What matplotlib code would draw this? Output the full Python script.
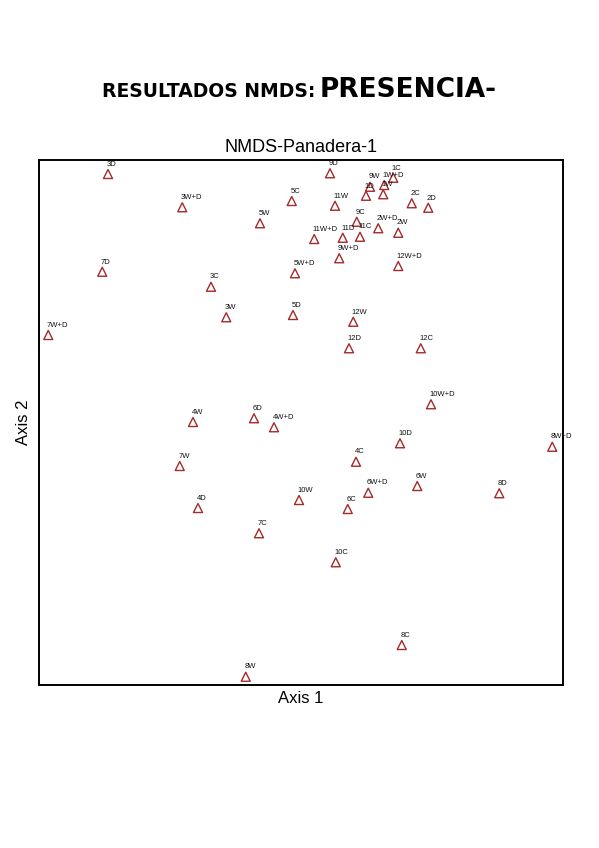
import matplotlib
matplotlib.use('Agg')
import matplotlib.pyplot as plt

# NMDS scores (axis units arbitrary)
labels = ['3D', '3W+D', '5C', '5W', '7D', '3C', '5W+D', '3W', '5D', '7W+D',
          '4W', '6D', '4W+D', '7W', '4D', '7C',
          '10W+D', '10D', '8W+D', '4C', '6W+D', '6W', '8D', '10W', '6C', '10C',
          '8C', '8W',
          '12W', '12D', '12C', '12W+D', '9W+D',
          '9D', '11W', '2C', '2D', '9C', '2W+D', '2W', '11W+D', '11D', '11C',
          '1D', '1W', '1C', '1W+D', '9W']
axis1 = [-0.768, -0.471, -0.033, -0.160, -0.791, -0.356, -0.020, -0.295, -0.028, -1.007,
         -0.428, -0.184, -0.104, -0.481, -0.408, -0.164,
         0.524, 0.400, 1.009, 0.224, 0.273, 0.469, 0.797, -0.004, 0.191, 0.143,
         0.407, -0.217,
         0.213, 0.196, 0.483, 0.393, 0.157,
         0.120, 0.140, 0.447, 0.513, 0.227, 0.313, 0.393, 0.057, 0.171, 0.240,
         0.264, 0.333, 0.373, 0.337, 0.280]
axis2 = [0.984, 0.851, 0.876, 0.787, 0.593, 0.533, 0.587, 0.411, 0.420, 0.340,
         -0.008, 0.007, -0.029, -0.184, -0.352, -0.453,
         0.063, -0.093, -0.107, -0.167, -0.291, -0.264, -0.293, -0.320, -0.356, -0.569,
         -0.900, -1.027,
         0.393, 0.287, 0.287, 0.616, 0.647,
         0.987, 0.857, 0.867, 0.849, 0.793, 0.767, 0.749, 0.724, 0.729, 0.733,
         0.897, 0.903, 0.969, 0.940, 0.933]

fig = plt.figure(figsize=(5.99, 8.48), dpi=100)

fig.text(0.526, 1 - 97 / 848., 'RESULTADOS NMDS:', ha='right', va='baseline',
         fontsize=13.5, fontweight='bold', family='DejaVu Sans')
fig.text(0.534, 1 - 97 / 848., 'PRESENCIA-', ha='left', va='baseline',
         fontsize=19, fontweight='bold', family='DejaVu Sans')

ax = fig.add_axes([39 / 599., 1 - 685 / 848., 524 / 599., 525 / 848.])
ax.scatter(axis1, axis2, marker='^', s=42, facecolors='none',
           edgecolors='#a52a2a', linewidths=1.0)
for lab, x, y in zip(labels, axis1, axis2):
    ax.annotate(lab, (x, y), xytext=(-1, 4.5), textcoords='offset points',
                ha='left', va='bottom', fontsize=5.5, color='#111111',
                family='Liberation Sans')

ax.set_xlim(-1.044, 1.052)
ax.set_ylim(-1.06, 1.04)
ax.set_xticks([])
ax.set_yticks([])
for s in ax.spines.values():
    s.set_linewidth(1.4)

ax.set_title('NMDS-Panadera-1', fontsize=13, family='Liberation Sans', pad=6)
ax.set_xlabel('Axis 1', fontsize=12, family='Liberation Sans', labelpad=4)
ax.set_ylabel('Axis 2', fontsize=12, family='Liberation Sans', labelpad=6)

plt.savefig('out.png', dpi=100)
plt.close()
